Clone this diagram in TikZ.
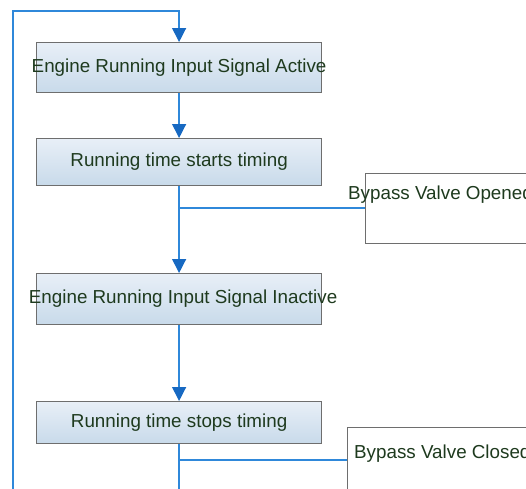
\documentclass[tikz,border=0pt]{standalone}
\usepackage{fontspec}
\setmainfont{Liberation Sans}
\usetikzlibrary{arrows.meta}
\definecolor{flowline}{HTML}{2F88DA}
\definecolor{flowtip}{HTML}{1769C2}
\definecolor{boxtop}{HTML}{E8EFF7}
\definecolor{boxbot}{HTML}{C8DAEA}
\definecolor{boxedge}{HTML}{6E6E6E}
\definecolor{labeltext}{HTML}{1E3A1E}
\newcommand{\labelfont}{\fontsize{18.8}{22}\selectfont}
\tikzset{
  x=1pt, y=-1pt,
  stepbox/.style={draw=boxedge, line width=1.2pt, top color=boxtop, bottom color=boxbot,
    minimum width=285pt, anchor=north west, inner sep=0pt, font=\labelfont,
    text=labeltext},
  steptext/.style={inner sep=0pt, font=\labelfont, text=labeltext},
  notebox/.style={draw=boxedge, line width=1.2pt, fill=white, anchor=north west, inner sep=0pt},
  notetext/.style={anchor=west, inner sep=0pt, font=\labelfont, text=labeltext},
  flow/.style={draw=flowline, line width=1.3pt},
  flowarrow/.style={flow, -{Triangle[length=14pt, width=14pt, fill=flowtip, color=flowtip]}},
}
\begin{document}
\begin{tikzpicture}
\useasboundingbox (0,0) rectangle (526,488);
\clip (0,0) rectangle (526,488);

% process steps
\node[stepbox, minimum height=50pt] (active) at (36,42) {};
\node[steptext] (activetxt) at (active.center) {Engine Running Input Signal Active};
\node[stepbox, minimum height=47pt] (start) at (36,138) {Running time starts timing};
\node[stepbox, minimum height=51pt] (inactive) at (36,273) {};
\node[steptext] (inactivetxt) at ([xshift=4pt]inactive.center) {Engine Running Input Signal Inactive};
\node[stepbox, minimum height=42pt] (stop) at (36,401) {Running time stops timing};

% valve state notes
\node[notebox, minimum width=200pt, minimum height=70pt] (opened) at (365,173) {};
\node[notetext] (openedtxt) at (348,195) {Bypass Valve Opened};
\node[notebox, minimum width=220pt, minimum height=80pt] (closed) at (347,427) {};
\node[notetext] (closedtxt) at (354,454) {Bypass Valve Closed};

% branch points and loop corners
\coordinate (b1) at (start.south |- 0,208);
\coordinate (b2) at (stop.south |- 0,460);
\coordinate (loopbot) at (stop.south |- 0,500);
\coordinate (loopbl) at (13,500);
\coordinate (looptl) at (13,11);
\coordinate (looptr) at (active.north |- 0,11);

% main flow
\draw[flowarrow] (active.south) -- (start.north);
\draw[flowarrow] (start.south) -- (inactive.north);
\draw[flowarrow] (inactive.south) -- (stop.north);
\draw[flow] (b1) -- (opened.west |- b1);
\draw[flow] (b2) -- (closed.west |- b2);
\draw[flowarrow] (stop.south) -- (loopbot) -- (loopbl) -- (looptl) -- (looptr) -- (active.north);
\end{tikzpicture}
\end{document}
